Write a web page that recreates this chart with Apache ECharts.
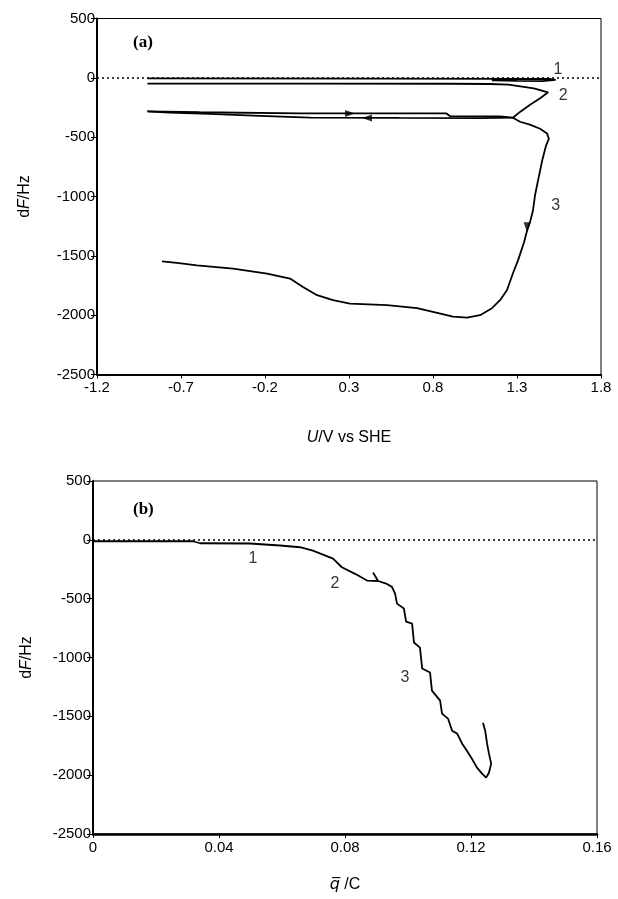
<!DOCTYPE html>
<html>
<head>
<meta charset="utf-8">
<script src="https://cdn.jsdelivr.net/npm/echarts@6/dist/echarts.min.js"></script>
<style>
html,body{margin:0;padding:0;background:#fff}
#main{width:618px;height:899px}
</style>
</head>
<body>
<div id="main"></div>
<script>
// panel (a): dF vs U
var uTicks=[-1.2,-0.7,-0.2,0.3,0.8,1.3,1.8];
var a1=[[-0.90,-4],[0.5,-6],[1.2,-8],[1.50,-10],[1.53,-18],[1.45,-27],[1.30,-26],[1.15,-22]];
var a2=[[-0.90,-48],[0.0,-48],[0.9,-50],[1.14,-52],[1.25,-58],[1.32,-72],[1.40,-88],[1.485,-122],
  [1.44,-170],[1.38,-225],[1.32,-285],[1.276,-336],[1.08,-339],[0.60,-338],[0.07,-336],
  [-0.23,-320],[-0.53,-303],[-0.77,-294],[-0.90,-283]];
var a3=[[-0.90,-283],[-0.59,-290],[0.01,-300],[0.29,-300],[0.88,-300],[0.90,-322],[1.20,-325],
  [1.276,-336],[1.318,-370],[1.377,-395],[1.437,-429],[1.479,-470],[1.490,-513],[1.473,-571],
  [1.45,-697],[1.425,-866],[1.407,-992],[1.395,-1118],[1.377,-1218],[1.36,-1286],[1.342,-1386],
  [1.306,-1538],[1.276,-1647],[1.240,-1790],[1.199,-1874],[1.151,-1941],[1.080,-2000],[1.002,-2021],
  [0.919,-2013],[0.80,-1972],[0.705,-1941],[0.526,-1916],[0.306,-1902],[0.205,-1874],[0.110,-1832],
  [0.026,-1762],[-0.051,-1692],[-0.188,-1650],[-0.390,-1607],[-0.605,-1580],[-0.724,-1560],[-0.813,-1546]];
var aArrows=[[0.306,-300,-90],[0.407,-339,90],[1.36,-1260,180]];
var aLabels=[[1.544,70,'1'],[1.575,-150,'2'],[1.53,-1076,'3']];

// panel (b): dF vs q
var qTicks=[0,0.04,0.08,0.12,0.16];
var b2=[[0,-12],[0.0317,-12],[0.034,-29],[0.0498,-31],[0.0594,-48],[0.0657,-63],[0.0698,-91],
  [0.0762,-159],[0.079,-233],[0.0832,-289],[0.087,-346],[0.0905,-350],[0.0889,-278]];
var b3=[[0.0905,-350],[0.0933,-375],[0.0949,-400],[0.0959,-457],[0.0965,-542],[0.0987,-584],
  [0.0994,-695],[0.1013,-712],[0.1019,-873],[0.1038,-916],[0.1045,-1094],[0.107,-1128],[0.1076,-1281],
  [0.1102,-1366],[0.1108,-1477],[0.1127,-1519],[0.114,-1622],[0.1156,-1647],[0.1172,-1732],
  [0.1187,-1792],[0.1203,-1860],[0.1219,-1936],[0.1235,-1987],[0.1248,-2021],[0.1257,-1979],
  [0.1264,-1902],[0.1257,-1817],[0.1251,-1732],[0.1245,-1622],[0.1238,-1554]];
var bLabels=[[0.0508,-159,'1'],[0.0768,-372,'2'],[0.099,-1171,'3']];

var fTicks=[-2500,-2000,-1500,-1000,-500,0,500];

var font='"Liberation Sans", Arial, sans-serif';
var nameRich={
  n:{fontFamily:font,fontSize:16,color:'#000'},
  i:{fontFamily:font,fontSize:16,fontStyle:'italic',color:'#000'},
  q:{fontFamily:'"DejaVu Sans", sans-serif',fontSize:16,fontStyle:'italic',color:'#000'}
};

function line(data,xi){
  return {type:'line',xAxisIndex:xi,yAxisIndex:xi,data:data,showSymbol:false,silent:true,
    lineStyle:{color:'#000',width:1.8},z:3};
}
function zero(xi){
  return {type:'line',xAxisIndex:xi,yAxisIndex:xi,data:[],
    markLine:{symbol:'none',silent:true,label:{show:false},
      lineStyle:{color:'#000',type:[2,3],width:1.5},data:[{yAxis:0}]}};
}
function labels(data,xi){
  return {type:'scatter',xAxisIndex:xi,yAxisIndex:xi,data:data,symbolSize:1,
    itemStyle:{color:'rgba(0,0,0,0)'},silent:true,
    label:{show:true,position:'inside',formatter:function(p){return p.data[2];},
      fontFamily:font,fontSize:16,color:'#000'}};
}
function yAx(gi,gap){
  return {type:'value',gridIndex:gi,min:-2500,max:500,interval:500,
    name:'{n|d}{i|F}{n|/Hz}',nameLocation:'middle',nameGap:gap,nameTextStyle:{rich:nameRich},
    axisLine:{show:true,onZero:false,lineStyle:{color:'#000',width:2}},
    axisTick:{show:true,length:6,lineStyle:{color:'#000',width:1}},
    axisLabel:{color:'#000',fontFamily:font,fontSize:15,margin:2,
      formatter:function(v){return String(v);}},
    splitLine:{show:false}};
}

var chart=echarts.init(document.getElementById('main'));
chart.setOption({
  animation:false,
  backgroundColor:'#fff',
  grid:[
    {left:97,top:18.5,width:504,height:356,show:true,borderColor:'#000',borderWidth:1},
    {left:93,top:481,width:504,height:353,show:true,borderColor:'#000',borderWidth:1}
  ],
  xAxis:[
    {type:'value',gridIndex:0,min:-1.2,max:1.8,
      name:'{i|U}{n|/V vs SHE}',nameLocation:'middle',nameGap:55,nameTextStyle:{rich:nameRich},
      axisLine:{show:true,onZero:false,lineStyle:{color:'#000',width:2}},
      axisTick:{show:true,length:4,customValues:uTicks,lineStyle:{color:'#000'}},
      axisLabel:{color:'#000',fontFamily:font,fontSize:15,margin:6,customValues:uTicks,
        formatter:function(v){return v.toFixed(1);}},
      splitLine:{show:false}},
    {type:'value',gridIndex:1,min:0,max:0.16,
      name:'{q|q\u0305}{n| /C}',nameLocation:'middle',nameGap:43,nameTextStyle:{rich:nameRich},
      axisLine:{show:true,onZero:false,lineStyle:{color:'#000',width:2.5}},
      axisTick:{show:true,length:4,customValues:qTicks,lineStyle:{color:'#000'}},
      axisLabel:{color:'#000',fontFamily:font,fontSize:15,margin:6,customValues:qTicks,
        formatter:function(v){return v===0?'0':String(+v.toFixed(2));}},
      splitLine:{show:false}}
  ],
  yAxis:[yAx(0,64),yAx(1,58)],
  graphic:[
    {type:'text',left:133,top:34,style:{text:'(a)',fontFamily:'"Liberation Serif", serif',fontWeight:'bold',fontSize:17,fill:'#000'}},
    {type:'text',left:133,top:501,style:{text:'(b)',fontFamily:'"Liberation Serif", serif',fontWeight:'bold',fontSize:17,fill:'#000'}}
  ],
  series:[
    zero(0),
    line(a1,0),line(a2,0),line(a3,0),
    {type:'scatter',xAxisIndex:0,yAxisIndex:0,silent:true,symbol:'triangle',symbolSize:[7,10],
      data:aArrows.map(function(d){return {value:[d[0],d[1]],symbolRotate:d[2]};}),
      itemStyle:{color:'#000'},z:4},
    labels(aLabels,0),
    zero(1),
    line(b2,1),line(b3,1),
    labels(bLabels,1)
  ]
});
</script>
</body>
</html>
